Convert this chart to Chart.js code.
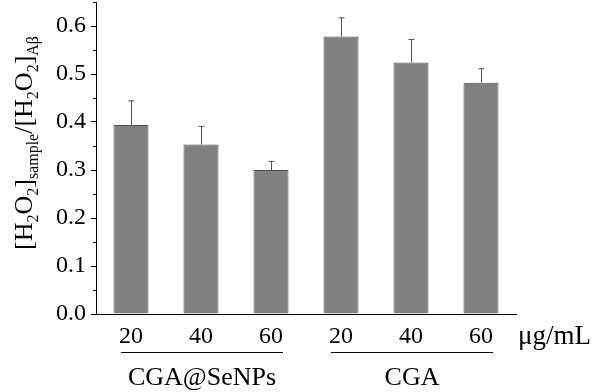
<!DOCTYPE html>
<html>
<head>
<meta charset="utf-8">
<script src="https://cdn.jsdelivr.net/npm/chart.js@4/dist/chart.umd.min.js"></script>
<style>
  html, body { margin: 0; padding: 0; background: #fff; }
  #wrap { width: 597px; height: 392px; }
</style>
</head>
<body>
<div id="wrap"><canvas id="chart"></canvas></div>
<script>
// data
var categories = ['20', '40', '60', '20', '40', '60'];
var means = [0.394, 0.353, 0.300, 0.578, 0.524, 0.482];
var errors = [0.051, 0.039, 0.019, 0.040, 0.049, 0.030];
var groups = ['CGA@SeNPs', 'CGA'];
var groupStart = [0, 3];
var groupEnd = [2, 5];
var unitLabel = 'μg/mL';

var serif = '"Liberation Serif", "Times New Roman", serif';

// error bars, minor ticks, group labels and the y title
var extras = {
    id: 'extras',
    afterDatasetsDraw: function (chart) {
        var ctx = chart.ctx;
        var y = chart.scales.y;
        var meta = chart.getDatasetMeta(0);
        ctx.save();
        ctx.strokeStyle = '#555';
        ctx.lineWidth = 1;
        meta.data.forEach(function (bar, i) {
            var top = y.getPixelForValue(means[i] + errors[i]);
            ctx.beginPath();
            ctx.moveTo(bar.x + 0.5, bar.y);
            ctx.lineTo(bar.x + 0.5, top);
            ctx.moveTo(bar.x - 2.5, top + 0.5);
            ctx.lineTo(bar.x + 3.5, top + 0.5);
            ctx.stroke();
        });
        ctx.restore();
    },
    afterDraw: function (chart) {
        var ctx = chart.ctx;
        var x = chart.scales.x;
        var y = chart.scales.y;
        var area = chart.chartArea;
        ctx.save();
        // minor ticks on y
        ctx.strokeStyle = '#000';
        ctx.lineWidth = 1;
        for (var v = 0.05; v < 0.65; v += 0.1) {
            var py = Math.round(y.getPixelForValue(v)) + 0.5;
            ctx.beginPath();
            ctx.moveTo(area.left, py);
            ctx.lineTo(area.left - 3, py);
            ctx.stroke();
        }
        // group lines and labels
        ctx.fillStyle = '#000';
        ctx.font = '26px ' + serif;
        ctx.textAlign = 'center';
        ctx.textBaseline = 'alphabetic';
        groups.forEach(function (g, i) {
            var x0 = x.getPixelForValue(groupStart[i]) - 10;
            var x1 = x.getPixelForValue(groupEnd[i]) + 12;
            ctx.beginPath();
            ctx.moveTo(x0, 352.5);
            ctx.lineTo(x1, 352.5);
            ctx.stroke();
            ctx.fillText(g, (x0 + x1) / 2, 385);
        });
        ctx.textAlign = 'left';
        ctx.font = '27px ' + serif;
        ctx.fillText(unitLabel, area.right + 2, 344);

        // y axis title with subscripts
        var parts = [
            ['[H', 0], ['2', 1], ['O', 0], ['2', 1], [']', 0], ['sample', 1],
            ['/[H', 0], ['2', 1], ['O', 0], ['2', 1], [']', 0], ['Aβ', 1]
        ];
        var big = '26px ' + serif, small = '16px ' + serif;
        var total = 0;
        parts.forEach(function (p) {
            ctx.font = p[1] ? small : big;
            total += ctx.measureText(p[0]).width;
        });
        ctx.translate(32, 143);
        ctx.rotate(-Math.PI / 2);
        var cx = -total / 2;
        parts.forEach(function (p) {
            ctx.font = p[1] ? small : big;
            ctx.fillText(p[0], cx, p[1] ? 6 : 0);
            cx += ctx.measureText(p[0]).width;
        });
        ctx.restore();
    }
};

new Chart(document.getElementById('chart'), {
    type: 'bar',
    data: {
        labels: categories,
        datasets: [{
            data: means,
            backgroundColor: '#808080',
            borderColor: '#505050',
            borderWidth: 1,
            barPercentage: 0.5,
            categoryPercentage: 1.0
        }]
    },
    options: {
        responsive: true,
        maintainAspectRatio: false,
        animation: false,
        layout: { padding: { top: 2, right: 81, left: 0, bottom: 0 } },
        plugins: {
            legend: { display: false },
            tooltip: { enabled: false }
        },
        scales: {
            x: {
                grid: { display: true, drawOnChartArea: false, drawTicks: false },
                border: { display: true, color: '#000', width: 1 },
                ticks: {
                    color: '#000',
                    font: { family: serif, size: 24 },
                    padding: 8,
                    maxRotation: 0
                },
                afterFit: function (scale) {
                    scale.height = 78;
                    scale.paddingLeft = 0;
                    scale.paddingRight = 0;
                }
            },
            y: {
                min: 0,
                max: 0.65,
                grid: { display: true, drawOnChartArea: false, drawTicks: true, tickLength: 5, color: '#000' },
                border: { display: true, color: '#000', width: 1 },
                ticks: {
                    stepSize: 0.1,
                    includeBounds: false,
                    color: '#000',
                    padding: 5,
                    font: { family: serif, size: 24 },
                    callback: function (v) { return v.toFixed(1); }
                },
                afterFit: function (scale) {
                    scale.width = 96;
                    scale.paddingTop = 0;
                    scale.paddingBottom = 0;
                }
            }
        }
    },
    plugins: [extras]
});
</script>
</body>
</html>
